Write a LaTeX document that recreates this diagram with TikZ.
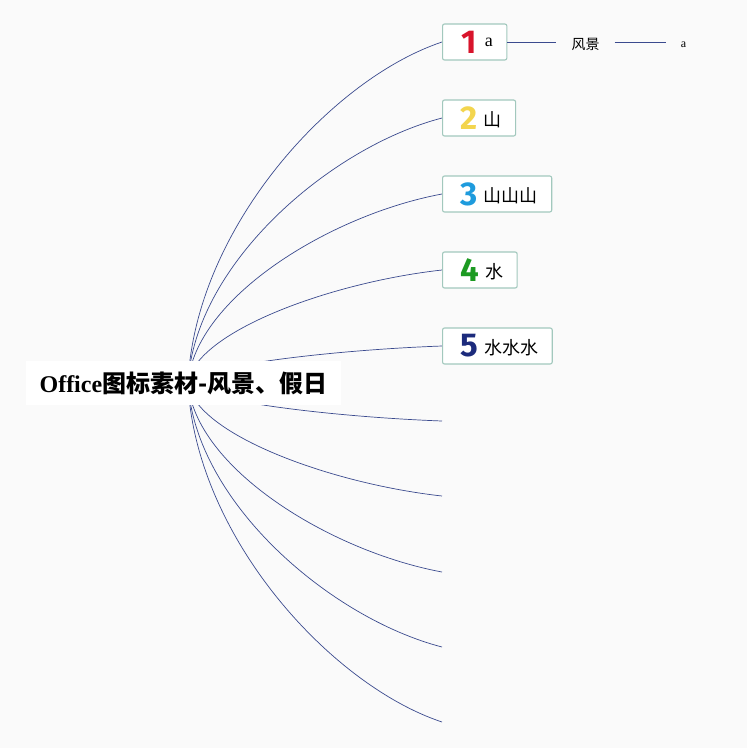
\documentclass[tikz,border=0pt]{standalone}
\usepackage{fontspec}
\usepackage{xcolor}
\setmainfont{Liberation Serif}
\newfontfamily\cjk{Noto Sans CJK SC}
\newfontfamily\numfont{Fira Sans}
\definecolor{bg}{HTML}{FAFAFA}
\definecolor{wire}{HTML}{3A4A8E}
\definecolor{frame}{HTML}{A2C8BD}
\definecolor{n1}{HTML}{D8142B}
\definecolor{n2}{HTML}{F3D54E}
\definecolor{n3}{HTML}{1E9BDD}
\definecolor{n4}{HTML}{1C9A22}
\definecolor{n5}{HTML}{1C2B7C}
\newcommand{\numtag}[2]{{\numfont\bfseries\fontsize{33}{33}\selectfont\color{#1}#2}}
\newcommand{\boxtext}[1]{\raisebox{2.5pt}{\cjk\fontsize{18}{20}\selectfont #1}}

\begin{document}
\begin{tikzpicture}
  [x=1pt,y=-1pt,
   box/.style={draw=frame,line width=1.1pt,fill=white,rounded corners=2pt,
     anchor=west,minimum height=36pt,inner xsep=14pt,inner ysep=0pt},
   leaf/.style={inner xsep=15pt,inner ysep=0pt},
   wire/.style={draw=wire,line width=0.7pt}]
  \fill[bg] (0,0) rectangle (747,748);
  \useasboundingbox (0,0) rectangle (747,748);

  \coordinate (hub) at (188,383);
  \foreach \i/\y in {1/42,2/118,3/194,4/270,5/346,6/421,7/496,8/572,9/647,10/722}
    \coordinate (e\i) at (442,\y);

  \foreach \i/\y in {1/42,2/118,3/194,4/270,5/346,6/421,7/496,8/572,9/647,10/722}
    \draw[wire] (hub) .. controls (195,{383+0.45*(\y-383)}) and (330,{\y-0.11*(\y-383)}) .. (e\i);

  \node[fill=white,minimum width=315pt,minimum height=44pt,inner sep=0pt] (r) at (183.5,383)
    {\fontsize{24}{28}\selectfont\bfseries Office{\cjk 图标素材-风景、假日}};

  \node[box] (1) at (e1) {\hspace{5pt}\numtag{n1}{1}\hspace{8pt}\raisebox{7pt}{\fontsize{18}{20}\selectfont a}\hspace{1pt}};
  \node[box] (2) at (e2) {\hspace{4pt}\numtag{n2}{2}\hspace{6pt}\boxtext{山}\hspace{1pt}};
  \node[box] (3) at (e3) {\hspace{4pt}\numtag{n3}{3}\hspace{6pt}\boxtext{山山山}\hspace{2pt}};
  \node[box] (4) at (e4) {\hspace{4pt}\numtag{n4}{4}\hspace{6pt}\boxtext{水}\hspace{1pt}};
  \node[box] (5) at (e5) {\hspace{4pt}\numtag{n5}{5}\hspace{6pt}\boxtext{水水水}\hspace{2pt}};

  \node[leaf] (s1) at (585.5,44) {\cjk\fontsize{14}{16}\selectfont 风景};
  \node[leaf] (s2) at (683.5,44.5) {\fontsize{12}{14}\selectfont a};

  \draw[wire,line width=0.5pt] (1.east) -- (1.east -| s1.west);
  \draw[wire,line width=0.5pt] (1.east -| s1.east) -- (1.east -| s2.west);

\end{tikzpicture}
\end{document}
